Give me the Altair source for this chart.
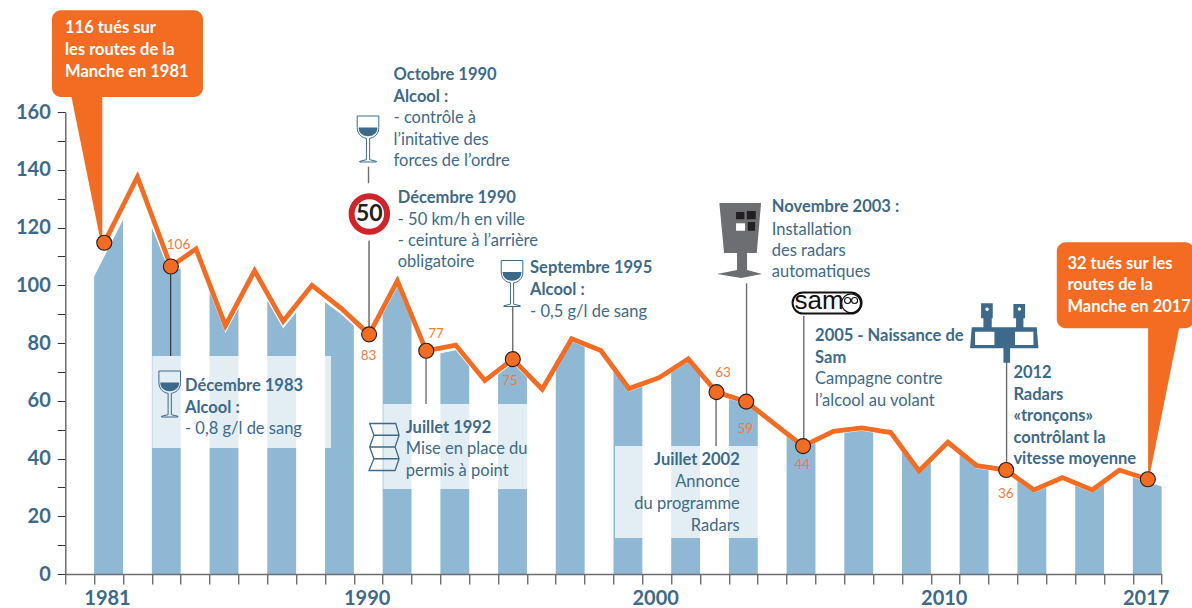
import altair as alt
import pandas as pd

# ---------- series ----------
line_x = [1980.85,1982,1983.16,1984.03,1985.05,1986.06,1987.05,1988.05,1989.06,1990.03,1991.01,1992.01,
          1993.03,1994.04,1995.01,1996.03,1997.05,1998.06,1999.04,2000.08,2001.09,2002.07,2003.10,2004.08,
          2005.07,2006.12,2007.10,2008.11,2009.09,2010.09,2011.09,2012.11,2013.07,2014.06,2015.09,2016.03,2017.02]
line_y = [114.7,137.5,106.5,112.6,86,105,87.5,100,92,83,101.5,77.3,79.3,67,74.4,64,81.5,77.4,64.2,68,74.5,
          63,59.7,52,44.3,49.4,50.6,49,35.7,45.6,37.5,36,29.1,33.4,29.1,36,32.8]
area_x = [1980.5] + line_x[1:] + [2017.5]
area_y = [103,132.5,103.5,110,83.5,102.5,85,97.5,90,81,99.5,75.5,77.5,65.5,73,62.5,80.5,76.4,63.2,67,73.5,
          62,58.7,51,43.3,48.4,49.6,48,34.7,44.6,36.5,35,28.1,32.4,28.1,35,31.8,30.3]
event_idx = [0,2,9,11,14,21,22,24,31,36]
gap_years = list(range(1982, 2017, 2))
tick_values = [1979.5 + i for i in range(39)]
y_ticks = list(range(0, 161, 10))
x_labels = [1981, 1990, 2000, 2010, 2017]

# ---------- colours ----------
BAR = "#8fb8d4"; ORANGE = "#f36c21"; BLUE = "#3d6a8a"; GREY = "#6d6e71"; DARK = "#231f20"

# ---------- pixel helpers for annotations ----------
X0, PX = 65.3, 28.85
Y0, PY = 574.0, 2.8875
W, H = 1096.4, 462.0
def tx(p): return 1979.5 + (p - X0) / PX
def ty(p): return (Y0 - p) / PY

xscale = alt.Scale(domain=[1979.5, 2017.5], nice=False, zero=False)
yscale = alt.Scale(domain=[0, 160], nice=False, zero=False)
lab = "[" + ",".join(str(v) for v in x_labels) + "]"
XAXIS = alt.Axis(
    values=tick_values, tickSize=10, tickColor="#333333", tickWidth=1, domainColor=GREY, domainWidth=1.5,
    labelExpr=f"indexof({lab}, datum.value - 0.5) >= 0 ? toString(datum.value - 0.5) : ''",
    labelOffset=-16, labelFont="Lato", labelFontWeight="bold", labelFontSize=20, labelColor=BLUE,
    labelPadding=4, labelOverlap=False, labelFlush=False, grid=False, zindex=1)
YAXIS = alt.Axis(
    values=y_ticks, tickSize=8, tickColor="#333333", tickWidth=1, domainColor=GREY, domainWidth=1.5,
    labelExpr="datum.value % 20 == 0 ? datum.label : ''", labelFont="Lato", labelFontWeight="bold",
    labelFontSize=20, labelColor=BLUE, labelPadding=7, labelOverlap=False, labelFlush=False,
    grid=False, zindex=1)
def X(f="x"): return alt.X(f"{f}:Q", scale=xscale, axis=XAXIS, title=None)
def Y(f="y"): return alt.Y(f"{f}:Q", scale=yscale, axis=YAXIS, title=None)

layers = []

# area
area_df = pd.DataFrame({"x": area_x, "y": area_y})
layers.append(alt.Chart(area_df).mark_area(color=BAR, opacity=1, interpolate="linear").encode(x=X(), y=Y()))

# white gaps between the stripes
gap_df = pd.DataFrame({"x": [g - 0.5 for g in gap_years], "x2": [g + 0.5 for g in gap_years],
                       "y": [0] * len(gap_years), "y2": [150] * len(gap_years)})
layers.append(alt.Chart(gap_df).mark_rect(color="white", opacity=1).encode(x=X(), x2="x2:Q", y=Y(), y2="y2:Q"))

# pale text panels
panel_df = pd.DataFrame({"x": [tx(152.3), tx(383.3), tx(615)], "x2": [tx(331), tx(527.7), tx(760.3)],
                         "y": [ty(356), ty(404), ty(446)], "y2": [ty(448), ty(489), ty(538)]})
layers.append(alt.Chart(panel_df).mark_rect(color="white", opacity=0.74).encode(x=X(), x2="x2:Q", y=Y(), y2="y2:Q"))

# symbol helper (custom path normalised to [-1, 1])
def icon(path, cx, cy, half, fill=None, stroke=None, sw=1.0):
    d = pd.DataFrame({"x": [tx(cx)], "y": [ty(cy)]})
    kw = dict(shape=path, size=(2 * half) ** 2, opacity=1)
    if fill is not None:
        kw.update(filled=True, fill=fill, fillOpacity=1)
    else:
        kw.update(filled=False, fillOpacity=0)
    if stroke is not None:
        kw.update(stroke=stroke, strokeWidth=sw, strokeOpacity=1)
    else:
        kw.update(strokeWidth=0)
    return alt.Chart(d).mark_point(**kw).encode(x=X(), y=Y())

def polys(pts_lists, **k):
    xs = [p[0] for pl in pts_lists for p in pl]; ys = [p[1] for pl in pts_lists for p in pl]
    cx, cy = (min(xs) + max(xs)) / 2, (min(ys) + max(ys)) / 2
    half = max(max(xs) - min(xs), max(ys) - min(ys)) / 2
    path = " ".join("M" + " L".join(f"{(a-cx)/half:.3f},{(b-cy)/half:.3f}" for a, b in pl) + " Z" for pl in pts_lists)
    return icon(path, cx, cy, half, **k)

# call-outs
box_df = pd.DataFrame({"x": [tx(52), tx(1056.7)], "x2": [tx(203), tx(1194)],
                       "y": [ty(10.3), ty(242.3)], "y2": [ty(97), ty(328.3)]})
layers.append(alt.Chart(box_df).mark_rect(color=ORANGE, opacity=1, cornerRadius=9).encode(x=X(), x2="x2:Q", y=Y(), y2="y2:Q"))
layers.append(polys([[(71.3, 96), (102.3, 96), (102.3, 243), (101, 243)]], fill=ORANGE))
layers.append(polys([[(1148, 327), (1179.3, 327), (1149, 478), (1148, 478)]], fill=ORANGE))

# connector lines
def rules(rows, color, sw):
    d = pd.DataFrame([{"x": tx(a), "y": ty(b), "y2": ty(c)} for a, b, c in rows])
    return alt.Chart(d).mark_rule(color=color, strokeWidth=sw).encode(x=X(), y=Y(), y2="y2:Q")
layers.append(rules([(170.7, 266, 356), (369, 240.7, 334)], "#231f20", 1))
layers.append(rules([(368.5, 166.7, 183.3), (426, 351, 404), (512.7, 306, 359), (716, 392, 446),
                     (746.5, 283.3, 401), (803.7, 316, 446), (1006.5, 362, 470)], GREY, 1.4))

# main line and event markers
line_df = pd.DataFrame({"x": line_x, "y": line_y})
layers.append(alt.Chart(line_df).mark_line(color=ORANGE, strokeWidth=4.8, strokeJoin="miter", strokeMiterLimit=10,
                                           interpolate="linear").encode(x=X(), y=Y()))
ev_df = pd.DataFrame({"x": [line_x[i] for i in event_idx], "y": [line_y[i] for i in event_idx]})
layers.append(alt.Chart(ev_df).mark_point(shape="circle", size=225, filled=True, fill=ORANGE, fillOpacity=1,
                                          stroke="#231f20", strokeWidth=1.1, opacity=1).encode(x=X(), y=Y()))

# text helper
def text(rows, size=16.5, weight="normal", color=BLUE, align="left", font="Lato", dy=0.9):
    d = pd.DataFrame([{"x": tx(a), "y": ty(b + dy), "t": c} for a, b, c in rows])
    return alt.Chart(d).mark_text(font=font, fontSize=size, fontWeight=weight, color=color, align=align,
                                  baseline="middle", opacity=1).encode(x=X(), y=Y(), text="t:N")

layers.append(text([
    (65, 26.7, "116 tués sur"), (65, 48.7, "les routes de la"), (65, 70.7, "Manche en 1981"),
    (1067.3, 262.7, "32 tués sur les"), (1067.3, 284, "routes de la"), (1067.3, 305.7, "Manche en 2017"),
], weight="bold", color="white"))
layers.append(text([
    (393.5, 74, "Octobre 1990"), (393.5, 95.7, "Alcool :"),
    (397.7, 196.7, "Décembre 1990"),
    (530, 267, "Septembre 1995"), (530, 289, "Alcool :"),
    (185, 385, "Décembre 1983"), (185, 407, "Alcool :"),
    (405.7, 426.7, "Juillet 1992"),
    (771.7, 206, "Novembre 2003 :"),
    (815, 335, "2005 - Naissance de"), (815, 356.7, "Sam"),
    (1013.3, 371.7, "2012"), (1013.3, 393.7, "Radars"), (1013.3, 415, "«tronçons»"),
    (1013.3, 436.7, "contrôlant la"), (1013.3, 458, "vitesse moyenne"),
], weight="bold"))
layers.append(text([
    (393.5, 117, "- contrôle à"), (393.5, 139, "l’initative des"), (393.5, 160, "forces de l’ordre"),
    (397.7, 218.7, "- 50 km/h en ville"), (397.7, 240, "- ceinture à l’arrière"), (397.7, 261, "obligatoire"),
    (530, 311, "- 0,5 g/l de sang"),
    (185, 428, "- 0,8 g/l de sang"),
    (405.7, 448, "Mise en place du"), (405.7, 470, "permis à point"),
    (771.7, 228.7, "Installation"), (771.7, 250, "des radars"), (771.7, 271, "automatiques"),
    (815, 378, "Campagne contre"), (815, 400, "l’alcool au volant"),
]))
layers.append(text([(739.7, 459, "Juillet 2002")], weight="bold", align="right"))
layers.append(text([(739.7, 481, "Annonce"), (739.7, 503, "du programme"), (739.7, 525, "Radars")], align="right"))
layers.append(text([
    (178.5, 244, "106"), (368.5, 355, "83"), (436, 332.7, "77"), (510, 380, "75"), (723, 372, "63"),
    (745.3, 428, "59"), (802.3, 464.3, "44"), (1005.7, 493.3, "36"),
], size=13.5, color="#f47a3c", align="center"))

# wine glasses
GLASS = ("M-.47,-1 L.47,-1 L.47,-.5 C.47,-.2 .25,-.05 .07,-.03 L.07,.9 L.36,.97 L.36,1 L-.36,1 L-.36,.97 "
         "L-.07,.9 L-.07,-.03 C-.25,-.05 -.47,-.2 -.47,-.5 Z")
WINE = "M-.41,-.5 L.41,-.5 C.41,-.24 .2,-.12 0,-.12 C-.2,-.12 -.41,-.24 -.41,-.5 Z"
for cx, cy in [(169.7, 394), (368, 139), (512, 283.5)]:
    layers.append(icon(GLASS, cx, cy, 23, stroke=BLUE, sw=1))
    layers.append(icon(WINE, cx, cy, 23, fill=BLUE))

# speed sign
sign = pd.DataFrame({"x": [tx(369.3)], "y": [ty(214)]})
layers.append(alt.Chart(sign).mark_point(shape="circle", size=1260, filled=True, fill="white", fillOpacity=1,
                                         stroke="#d2232a", strokeWidth=6, opacity=1).encode(x=X(), y=Y()))
layers.append(text([(369.3, 214, "50")], size=23, weight="bold", color=DARK, align="center", dy=0.3))

# folded licence
layers.append(icon("M-.61,-1 L.5,-1 L.64,-.5 L.47,0 L.64,.5 L.47,1 L-.64,1 L-.43,.5 L-.61,0 L-.43,-.5 Z "
                   "M-.43,-.5 L.64,-.5 M-.61,0 L.47,0 M-.43,.5 L.64,.5", 384, 447, 23.5, stroke=BLUE, sw=1.3))

# speed camera
layers.append(polys([[(719.3, 203), (761, 203), (756.7, 253), (724, 253)],
                     [(737, 253), (747, 253), (747, 270), (762, 274), (741, 278), (717, 274), (737, 270)]],
                    fill=GREY))
layers.append(polys([[(736, 212), (744.3, 212), (744.3, 219.3), (736, 219.3)],
                     [(746.7, 211), (755.7, 211), (755.7, 219.3), (746.7, 219.3)],
                     [(747.7, 222), (755, 222), (755, 230.7), (747.7, 230.7)]], fill=DARK))
layers.append(polys([[(736, 223.3), (745, 223.3), (745, 230.7), (736, 230.7)]], fill="white"))

# SAM logo
sam_df = pd.DataFrame({"x": [tx(792.5)], "x2": [tx(861.5)], "y": [ty(292.5)], "y2": [ty(313.5)]})
layers.append(alt.Chart(sam_df).mark_rect(fill="white", stroke="#111111", strokeWidth=2, cornerRadius=10.5,
                                          opacity=1).encode(x=X(), x2="x2:Q", y=Y(), y2="y2:Q"))
layers.append(text([(819, 301, "sam")], size=26, color="#111111", align="center", font="Liberation Sans", dy=0))
face = pd.DataFrame({"x": [tx(851)], "y": [ty(303.3)]})
layers.append(alt.Chart(face).mark_point(shape="circle", size=361, filled=False, stroke="#111111", strokeWidth=1.2,
                                         opacity=1).encode(x=X(), y=Y()))
eyes = pd.DataFrame({"x": [tx(847.5), tx(854.5)], "y": [ty(300.5), ty(300.5)]})
layers.append(alt.Chart(eyes).mark_point(shape="circle", size=36, filled=False, stroke="#111111", strokeWidth=1.1,
                                         opacity=1).encode(x=X(), y=Y()))

# section-control camera
def zx(a): return 940 + a / 3
def zy(b): return 230 + b / 3
def zp(pts): return [(zx(a), zy(b)) for a, b in pts]
layers.append(polys([
    zp([(123, 220), (158, 220), (158, 265), (155, 265), (155, 292), (228, 292), (228, 265), (220, 265), (220, 222),
        (255, 222), (255, 265), (250, 265), (250, 292), (290, 292), (295, 355), (210, 355), (210, 398), (190, 398),
        (190, 355), (90, 355), (95, 292), (130, 292), (130, 265), (123, 265)]),
], fill=BLUE))
layers.append(polys([zp([(105, 305), (163, 305), (163, 345), (105, 345)]),
                     zp([(225, 305), (280, 305), (280, 345), (225, 345)])], fill="white"))
dots = pd.DataFrame({"x": [tx(zx(141)), tx(zx(238))], "y": [ty(zy(238)), ty(zy(237))]})
layers.append(alt.Chart(dots).mark_point(shape="circle", size=12, filled=True, fill="white", fillOpacity=1,
                                         strokeWidth=0, opacity=1).encode(x=X(), y=Y()))

chart = alt.layer(*layers).properties(
    width=W, height=H,
    autosize=alt.AutoSizeParams(type="none"),
    padding={"left": X0 - 8, "top": Y0 - H - 8, "right": 1176 - (X0 - 8) - W, "bottom": 26},
    background="white",
).configure_view(stroke=None)

chart.save("out.html", embed_options={"renderer": "svg", "actions": False,
    "defaultStyle": "html,body{overflow:visible !important} body{margin:0 !important;padding:8px !important} "
                    "#vis,.vega-embed{overflow:visible !important} .vega-embed svg{display:block;overflow:visible !important}"})
